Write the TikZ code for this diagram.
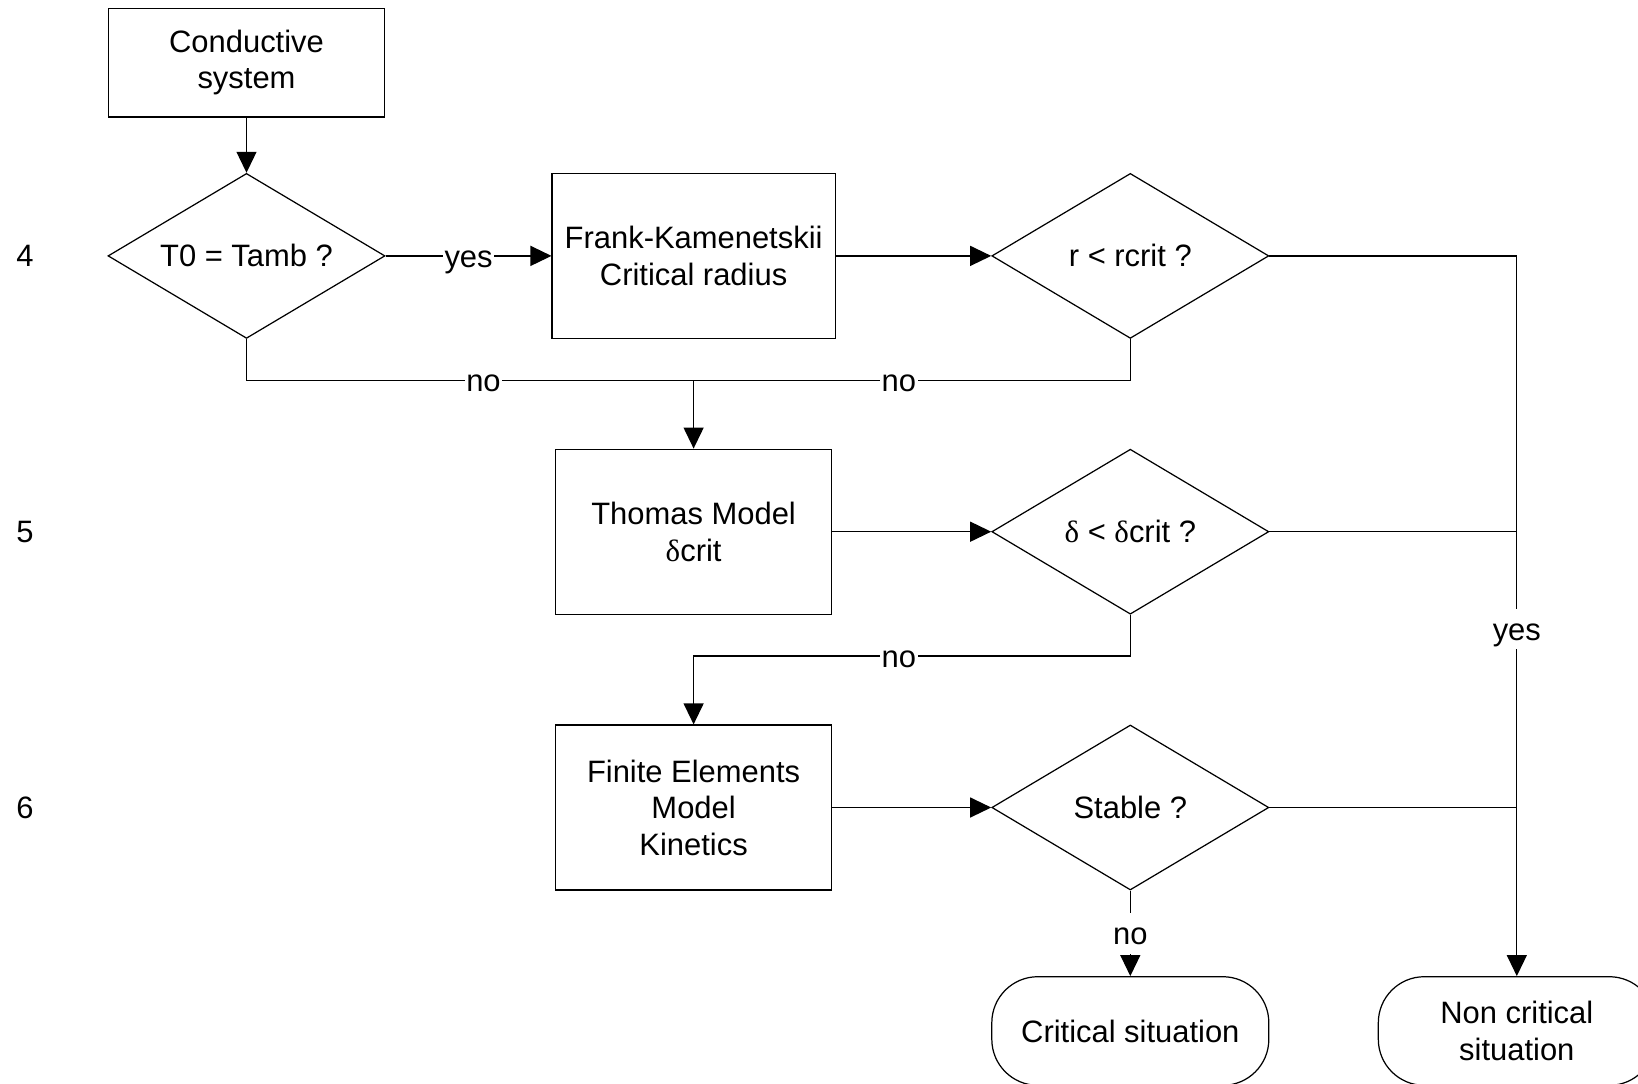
\documentclass[tikz,border=0pt]{standalone}
\usepackage{fontspec}
\setmainfont{Liberation Sans}
\newfontfamily\grk{Liberation Serif}
\usetikzlibrary{shapes.geometric,arrows.meta}

\tikzset{
  every node/.style={font=\fontsize{8.8pt}{10.4pt}\selectfont},
  proc/.style={draw, rectangle, align=center, inner sep=0pt, minimum width=2.76cm, minimum height=1.65cm},
  decide/.style={draw, diamond, align=center, inner xsep=-6mm, inner ysep=-2mm, minimum width=2.77cm, minimum height=1.65cm},
  term/.style={draw, rectangle, rounded corners=4.6mm, align=center, inner sep=0pt, minimum width=2.77cm, minimum height=1.086cm},
  lbl/.style={fill=white, inner sep=0.5pt, text height=1.6ex, text depth=0.4ex},
  arr/.style={-{Triangle[length=2.1mm, width=2mm]}},
}

\begin{document}
\begin{tikzpicture}[line width=0.35pt]
        \def \colA {2.465}
        \def \colB {6.936}
        \def \colC {11.303}
        \def \colD {15.168}
        \def \rowA {-0.627}
        \def \rowB {-2.559}
        \def \rowC {-5.317}
        \def \rowD {-8.075}
        \def \rowE {-10.31}
        
        \useasboundingbox (0,0) rectangle (16.38,-10.83);
        
        % step numbers on the left
        \foreach \n/\y in {4/\rowB,5/\rowC,6/\rowD}{
          \node at (0.25,\y) (num\n) {\n};
        }
        
        \node[proc, minimum height=1.086cm] at (\colA,\rowA) (cond) {Conductive\\system};
        \node[decide] at (\colA,\rowB) (tamb) {T0 = Tamb ?};
        \node[proc, minimum width=2.83cm] at (\colB,\rowB) (fk) {Frank-Kamenetskii\\Critical radius};
        \node[decide] at (\colC,\rowB) (rcrit) {r < rcrit ?};
        \node[proc] at (\colB,\rowC) (thomas) {Thomas Model\\{\grk δ}crit};
        \node[decide] at (\colC,\rowC) (dcrit) {{\grk δ} < {\grk δ}crit ?};
        \node[proc] at (\colB,\rowD) (fem) {Finite Elements\\Model\\Kinetics};
        \node[decide] at (\colC,\rowD) (stable) {Stable ?};
        \node[term] at (\colC,\rowE) (crit) {Critical situation};
        \node[term] at (\colD,\rowE) (noncrit) {Non critical\\situation};
        
        \coordinate (m1) at (\colB,-3.802);
        \coordinate (m2) at (\colB,-6.56);
        
        \draw[arr] (cond)--(tamb);
        \draw[arr] (tamb)--node[lbl]{yes}(fk);
        \draw[arr] (fk)--(rcrit);
        \draw (tamb.south) |- node[lbl, pos=0.765]{no} (m1);
        \draw (rcrit.south) |- node[lbl, pos=0.765]{no} (m1);
        \draw[arr] (m1)--(thomas);
        \draw[arr] (thomas)--(dcrit);
        \draw[arr] (dcrit.south) |- node[lbl, pos=0.765]{no} (m2) -- (fem);
        \draw[arr] (fem)--(stable);
        \draw[arr] (stable)--node[lbl]{no}(crit);
        
        \draw[arr] (rcrit.east) -- (rcrit.east -| noncrit.north) -- node[lbl, pos=0.518]{yes} (noncrit.north);
        \draw (dcrit.east) -- (dcrit.east -| noncrit.north);
        \draw (stable.east) -- (stable.east -| noncrit.north);
        \end{tikzpicture}
\end{document}
